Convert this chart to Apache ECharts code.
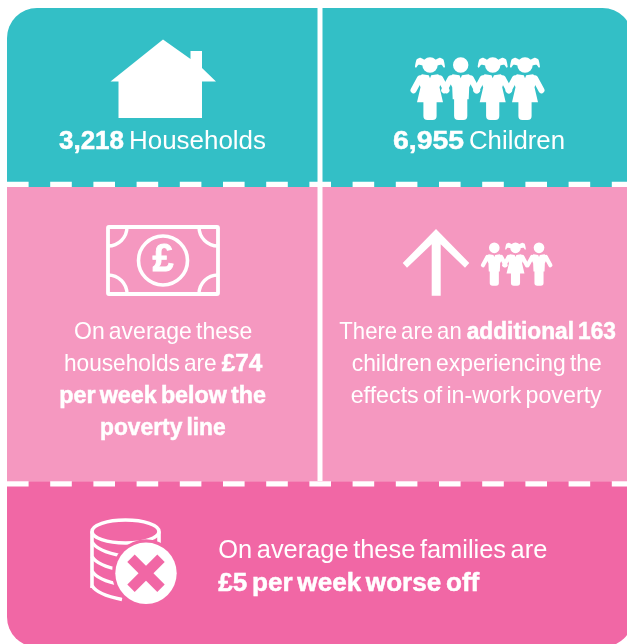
<!DOCTYPE html>
<html>
<head>
<meta charset="utf-8">
<style>
  html, body { margin: 0; padding: 0; background: #fff; }
  #main { width: 627px; height: 644px; }
</style>
</head>
<body>
<div id="main"></div>
<script src="https://cdn.jsdelivr.net/npm/echarts@6/dist/echarts.min.js"></script>
<script>
// text of each panel, [text, isBold]
const householdLine = [['3,218', true], ['Households', false]]
const childrenLine = [['6,955', true], ['Children', false]]
const belowLines = [
  [['On average these', false]],
  [['households are', false], ['£74', true]],
  [['per week below the', true]],
  [['poverty line', true]],
]
const additionalLines = [
  [['There are an', false], ['additional 163', true]],
  [['children experiencing the', false]],
  [['effects of in-work poverty', false]],
]
const worseLines = [
  [['On average these families are', false]],
  [['£5 per week worse off', true]],
]

const TEAL = '#33bfc6'
const PINK = '#f598c0'
const DEEP = '#f167a5'
const WHITE = '#fff'
const FONT = '"Liberation Sans", Arial, sans-serif'
const WORD_GAP = 0.18 // the original has narrow word spaces

const measureCtx = document.createElement('canvas').getContext('2d')

// one span of text, word by word, squeezed to the width it has in the reference
function span(item, left, right, baseline, size) {
  const font = (item[1] ? 'bold ' : '') + size + 'px ' + FONT
  measureCtx.font = font
  const words = item[0].split(' ')
  const widths = words.map((w) => measureCtx.measureText(w).width)
  const gap = size * WORD_GAP
  const natural = widths.reduce((a, b) => a + b, 0) + gap * (words.length - 1)
  const k = (right - left) / natural
  let x = left
  return words.map((w, i) => {
    const el = {
      type: 'text',
      x: x,
      y: baseline - size * 0.28,
      scaleX: k,
      style: {
        text: w,
        font: font,
        fill: WHITE,
        stroke: item[1] ? WHITE : null,
        lineWidth: item[1] ? 0.5 : 0,
        textAlign: 'left',
        textVerticalAlign: 'middle',
      },
    }
    x += (widths[i] + gap) * k
    return el
  })
}

function box(x, y, w, h, fill, r) {
  return { type: 'rect', shape: { x: x, y: y, width: w, height: h, r: r || 0 }, style: { fill: fill } }
}

function dashLine(y, h) {
  return {
    type: 'line',
    shape: { x1: 7, y1: y, x2: 640, y2: y },
    style: { stroke: WHITE, lineWidth: h, lineDash: [21.6, 21.6] },
  }
}

// child figure, cx is the middle, top is the top of the head, k the scale (1 = big row)
function child(cx, top, k, girl) {
  const out = []
  const px = (dx, dy) => [cx + dx * k, top + dy * k]
  out.push({ type: 'circle', shape: { cx: cx, cy: top + 7.7 * k, r: 7.7 * k }, style: { fill: WHITE } })
  if (girl) {
    ;[-1, 1].forEach((s) => {
      out.push({
        type: 'polygon',
        shape: {
          points: [
            px(s * 5, 3), px(s * 10, 0.4), px(s * 13.4, 2.2), px(s * 15, 9.5), px(s * 14, 10.5),
            px(s * 11.5, 7.5), px(s * 7, 8),
          ],
          smooth: 0.2,
        },
        style: { fill: WHITE },
      })
    })
  }
  const hem = girl ? 13 : 8
  const hemY = girl ? 45 : 42
  const waist = girl ? 9.5 : 8.5
  out.push({
    type: 'polygon',
    shape: {
      points: [
        px(-8, 17), px(-1.2, 18), px(0, 21), px(1.2, 18), px(8, 17), px(13, 21),
        px(waist, 30), px(hem, hemY), px(-hem, hemY), px(-waist, 30), px(-13, 21),
      ],
    },
    style: { fill: WHITE },
  })
  ;[-1, 1].forEach((s) => {
    out.push({
      type: 'polyline',
      shape: { points: [px(s * 10, 21), px(s * 16.5, 33)] },
      style: { stroke: WHITE, lineWidth: 6 * k, lineCap: 'round', fill: null },
    })
  })
  // legs
  out.push(box(cx - 6.6 * k, top + 40 * k, 13.2 * k, 22.8 * k, WHITE, [0, 0, 4 * k, 4 * k]))
  return out
}

function house() {
  return [{
    type: 'polygon',
    shape: {
      points: [[163, 39.5], [190.5, 59], [190.5, 51], [202, 51], [202, 68], [216, 81.5], [202, 81.5], [202, 118], [118.5, 118], [118.5, 81.5], [110.5, 81.5]],
    },
    style: { fill: WHITE },
  }]
}

function banknote() {
  const ring = (cx, cy, a, b) => ({
    type: 'arc',
    shape: { cx: cx, cy: cy, r: 19, startAngle: a, endAngle: b, clockwise: true },
    style: { stroke: WHITE, lineWidth: 3.4, fill: null },
  })
  return [
    ring(108, 227, 0, Math.PI / 2),
    ring(218, 227, Math.PI / 2, Math.PI),
    ring(108, 294, -Math.PI / 2, 0),
    ring(218, 294, Math.PI, Math.PI * 1.5),
    { type: 'rect', shape: { x: 108, y: 227, width: 110, height: 67, r: 1 }, style: { stroke: WHITE, lineWidth: 3.8, fill: null } },
    { type: 'circle', shape: { cx: 163, cy: 260.5, r: 24.5 }, style: { stroke: WHITE, lineWidth: 3.6, fill: null } },
    {
      type: 'text', x: 163, y: 261,
      style: { text: '£', font: 'bold 38px "Liberation Sans", sans-serif', fill: WHITE, stroke: WHITE, lineWidth: 0.8, textAlign: 'center', textVerticalAlign: 'middle' },
    },
  ]
}

function arrow() {
  return [{
    type: 'polygon',
    shape: {
      points: [[436, 229], [469.3, 263], [465, 267.7], [440.7, 244.3], [440.7, 295.7], [431.7, 295.7], [431.7, 244.3], [407, 267.7], [402.7, 263]],
    },
    style: { fill: WHITE },
  }]
}

function coins() {
  const out = []
  const stroke = { stroke: WHITE, lineWidth: 3.6, fill: null }
  out.push({ type: 'ellipse', shape: { cx: 125.5, cy: 531.5, rx: 33.5, ry: 11.5 }, style: stroke })
  out.push({ type: 'line', shape: { x1: 92, y1: 531.5, x2: 92, y2: 588 }, style: stroke })
  out.push({ type: 'line', shape: { x1: 159, y1: 531.5, x2: 159, y2: 548 }, style: stroke })
  ;[542, 556.5, 571, 585.5].forEach((y) => {
    out.push({
      type: 'bezierCurve',
      shape: { x1: 92, y1: y, cpx1: 97, cpy1: y + 9, x2: 122, y2: y + 14 },
      style: stroke,
    })
  })
  out.push({ type: 'circle', shape: { cx: 146, cy: 573.3, r: 34 }, style: { fill: DEEP } })
  out.push({ type: 'circle', shape: { cx: 146, cy: 573.3, r: 30.7 }, style: { fill: WHITE } })
  ;[1, -1].forEach((s) => {
    out.push({
      type: 'line',
      shape: { x1: 146 - 15 * s, y1: 558.3, x2: 146 + 15 * s, y2: 588.3 },
      style: { stroke: DEEP, lineWidth: 10.5 },
    })
  })
  return out
}

const elements = [].concat(
  // panels
  box(7, 8, 310.5, 179, TEAL, [30, 0, 0, 0]),
  box(322.5, 8, 310, 179, TEAL, [0, 30, 0, 0]),
  box(7, 187, 310.5, 294.3, PINK),
  box(322.5, 187, 310, 294.3, PINK),
  box(7, 481.3, 626, 165.7, DEEP, [0, 0, 30, 30]),
  dashLine(184.4, 5.3),
  dashLine(483.9, 5.3),
  house(),
  child(430, 57.3, 1, true),
  child(460.7, 57.3, 1, false),
  child(492.7, 57.3, 1, true),
  child(525, 57.3, 1, true),
  banknote(),
  arrow(),
  child(494.3, 242.5, 0.69, false),
  child(515.5, 242.5, 0.69, true),
  child(539, 242.5, 0.69, false),
  coins(),
  span(householdLine[0], 59, 124, 149, 25),
  span(householdLine[1], 129, 266, 149, 26),
  span(childrenLine[0], 393, 464, 149, 25),
  span(childrenLine[1], 469, 565, 149, 26),
  span(belowLines[0][0], 74, 252.3, 339, 24),
  span(belowLines[1][0], 64, 216.7, 371.5, 24),
  span(belowLines[1][1], 221.7, 262.3, 371.5, 24),
  span(belowLines[2][0], 59.3, 266, 403.5, 24),
  span(belowLines[3][0], 100, 225.7, 435.5, 24),
  span(additionalLines[0][0], 339.3, 461.7, 339, 24),
  span(additionalLines[0][1], 466.7, 616, 339, 24),
  span(additionalLines[1][0], 351.7, 601.7, 371.5, 24),
  span(additionalLines[2][0], 350.7, 601.7, 403.5, 24),
  span(worseLines[0][0], 218.3, 547.3, 558.5, 25.5),
  span(worseLines[1][0], 218.3, 479.3, 591, 25.5)
)

const chart = echarts.init(document.getElementById('main'), null, { renderer: 'canvas' })
chart.setOption({
  animation: false,
  backgroundColor: '#fff',
  graphic: { elements: elements },
})
</script>
</body>
</html>
